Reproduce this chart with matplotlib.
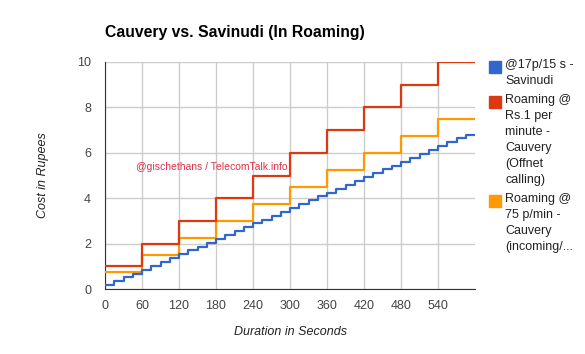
import matplotlib
matplotlib.use("Agg")
import matplotlib.pyplot as plt
from matplotlib.patches import Rectangle

plt.rcParams['font.family'] = ['Liberation Sans', 'DejaVu Sans']

# Data
blue_t = [0, 15, 30, 45, 60, 75, 90, 105, 120, 135, 150, 165, 180, 195, 210, 225,
          240, 255, 270, 285, 300, 315, 330, 345, 360, 375, 390, 405, 420, 435, 450,
          465, 480, 495, 510, 525, 540, 555, 570, 585, 600]
blue_v = [0.17, 0.34, 0.51, 0.68, 0.85, 1.02, 1.19, 1.36, 1.53, 1.70, 1.87, 2.04,
          2.21, 2.38, 2.55, 2.72, 2.89, 3.06, 3.23, 3.40, 3.57, 3.74, 3.91, 4.08,
          4.25, 4.42, 4.59, 4.76, 4.93, 5.10, 5.27, 5.44, 5.61, 5.78, 5.95, 6.12,
          6.29, 6.46, 6.63, 6.80, 6.80]
min_t = [0, 60, 120, 180, 240, 300, 360, 420, 480, 540, 600]
red_v = [1, 2, 3, 4, 5, 6, 7, 8, 9, 10, 10]
orange_v = [0.75, 1.5, 2.25, 3.0, 3.75, 4.5, 5.25, 6.0, 6.75, 7.5, 7.5]

x_ticks = [0, 60, 120, 180, 240, 300, 360, 420, 480, 540]
y_ticks = [0, 2, 4, 6, 8, 10]

series_labels = ["@17p/15 s -\nSavinudi",
                 "Roaming @\nRs.1 per\nminute -\nCauvery\n(Offnet\ncalling)",
                 "Roaming @\n75 p/min -\nCauvery\n(incoming/..."]
colors = ["#3366cc", "#dc3912", "#ff9900"]

W, H = 585, 354
fig = plt.figure(figsize=(W / 100, H / 100), dpi=100)
ax = fig.add_axes([105 / W, (H - 289) / H, (475 - 105) / W, (289 - 62) / H])

ax.step(min_t, orange_v, where='post', color=colors[2], lw=1.6, zorder=3)
ax.step(min_t, red_v, where='post', color=colors[1], lw=1.6, zorder=4)
ax.step(blue_t, blue_v, where='post', color=colors[0], lw=1.6, zorder=5)

ax.set_xlim(0, 600)
ax.set_ylim(0, 10)
ax.set_xticks(x_ticks)
ax.set_yticks(y_ticks)
ax.grid(True, color="#cccccc", lw=1)
ax.set_axisbelow(True)
for s in ['top', 'right']:
    ax.spines[s].set_visible(False)
for s in ['left', 'bottom']:
    ax.spines[s].set_color("#333333")
ax.tick_params(length=0, labelsize=9, labelcolor="#444444")
ax.tick_params(axis='x', pad=8)
ax.tick_params(axis='y', pad=10)

ax.set_xlabel("Duration in Seconds", fontstyle='italic', fontsize=9, color="#222222", labelpad=10)
ax.set_ylabel("Cost in Rupees", fontstyle='italic', fontsize=9, color="#222222", labelpad=20)

ax.text(173, 5.37, "@gischethans / TelecomTalk.info", color="#e0304a", fontsize=7.5,
        ha='center', va='center')

fig.text(105 / W, 1 - 33 / H, "Cauvery vs. Savinudi (In Roaming)", fontsize=11.3,
         fontweight='bold', ha='left', va='center', color="#000000")

# Legend
tops = [67, 102, 201]
for lab, c, yc in zip(series_labels, colors, tops):
    fig.patches.append(Rectangle((489 / W, 1 - (yc + 6) / H), 12 / W, 12 / H,
                                 transform=fig.transFigure, color=c, figure=fig))
    fig.text(505 / W, 1 - (yc - 8) / H, lab, fontsize=9, color="#222222",
             ha='left', va='top', linespacing=1.45)

fig.savefig("out.png", dpi=100)
